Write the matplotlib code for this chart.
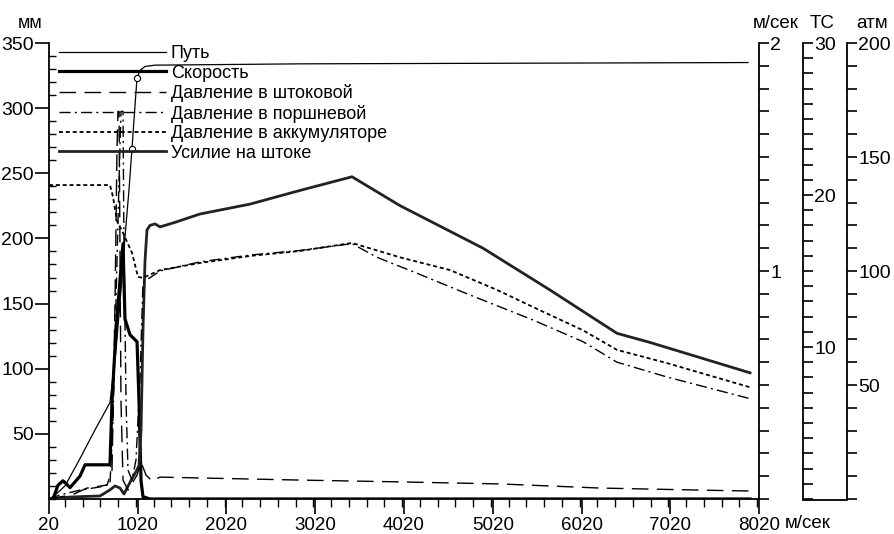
import matplotlib
matplotlib.use('Agg')
import matplotlib.pyplot as plt
from matplotlib.lines import Line2D
from matplotlib.ticker import MultipleLocator, FixedLocator

plt.rcParams['font.family'] = ['Liberation Sans', 'DejaVu Sans']

# time axis, ms
x_ticks = [20, 1020, 2020, 3020, 4020, 5020, 6020, 7020, 8020]

# Путь, мм
path_x = [20, 88, 200, 369, 538, 707, 775, 831, 876, 921, 955, 989, 1012, 1045, 1102, 1214, 2848, 7896]
path_y = [0, 3, 10, 31, 53, 74, 114, 160, 201, 237, 269, 302, 323, 329, 332, 333, 334, 335]
path_marks = [10, 12]

# Скорость, м/сек
speed_x = [20, 65, 121, 178, 257, 369, 426, 707, 730, 775, 820, 854, 876, 933, 1012, 1034, 1057, 1079, 1158, 7919]
speed_y = [0, 0, 0.06, 0.08, 0.05, 0.10, 0.15, 0.15, 0.43, 0.74, 0.96, 1.12, 0.79, 0.72, 0.69, 0.43, 0.08, 0.01, 0, 0]

# Давление в штоковой, атм
rod_x = [20, 144, 279, 448, 674, 730, 764, 786, 797, 809, 820, 831, 854, 910, 1012, 1057, 1113, 1181, 1271,
         2848, 3975, 5102, 6229, 7356, 7919]
rod_y = [0, 0.9, 1.8, 4.8, 6.1, 12.7, 87, 153, 170, 170, 109, 43, 8.3, 3.9, 10.5, 16.2, 10.5, 7.9, 9.6,
         8.3, 7.5, 6.6, 4.8, 3.9, 3.5]

# Давление в поршневой, атм
piston_x = [20, 144, 369, 595, 707, 741, 775, 809, 831, 854, 865, 888, 910, 955, 1000, 1045, 1079, 1271,
            1721, 2285, 2848, 3434, 3716, 4167, 4730, 5474, 6037, 6420, 6984, 7919]
piston_y = [0, 1.8, 3.9, 5.3, 6.6, 34.6, 87, 140, 170, 170, 109, 43, 12.7, 8.3, 17.1, 52, 95, 100,
            104, 107, 109, 112, 106, 99, 90, 78.5, 69, 60, 53.5, 44]

# Давление в аккумуляторе, атм
accum_x = [20, 707, 741, 786, 854, 955, 1023, 1079, 1271, 1721, 2285, 2848, 3434, 3975, 4539, 5068, 5474,
           6037, 6420, 6984, 7919]
accum_y = [137.7, 137.7, 132.5, 122, 116.7, 108, 97.4, 97, 100.4, 103.5, 106.6, 108.8, 112.3, 106, 100.4,
           91.7, 84.2, 74, 65.4, 59.6, 49]

# Усилие на штоке, ТС
force_x = [20, 257, 595, 707, 764, 820, 865, 933, 1000, 1034, 1057, 1079, 1102, 1124, 1158, 1214, 1271,
           1440, 1721, 2285, 2848, 3434, 3975, 4910, 5665, 6420, 6792, 7356, 7919]
force_y = [0, 0.13, 0.2, 0.6, 0.86, 0.72, 0.33, 1.1, 1.8, 2.2, 4.5, 11.1, 15.7, 17.7, 18.0, 18.1, 17.9,
           18.2, 18.75, 19.4, 20.3, 21.2, 19.3, 16.5, 13.75, 10.9, 10.3, 9.3, 8.3]

labels = ['Путь', 'Скорость', 'Давление в штоковой', 'Давление в поршневой',
          'Давление в аккумуляторе', 'Усилие на штоке']


def main():

    fig = plt.figure(figsize=(8.95, 5.34), dpi=100)
    ax = fig.add_axes([49 / 895, 35 / 534, 710 / 895, 456 / 534])
    ax_v = ax.twinx()
    ax_tc = ax.twinx()
    ax_atm = ax.twinx()
    ax_tc.spines['right'].set_position(('axes', 1.062))
    ax_atm.spines['right'].set_position(('axes', 1.124))

    ax.spines['top'].set_visible(False)
    ax.spines['right'].set_visible(False)
    for a in (ax_v, ax_tc, ax_atm):
        for s in ('top', 'left', 'bottom'):
            a.spines[s].set_visible(False)
        a.spines['right'].set_linewidth(1.3)
    ax.spines['left'].set_linewidth(1.3)
    ax.spines['bottom'].set_linewidth(1.3)

    #curves
    h_path, = ax.plot(path_x, path_y, color='black', lw=0.9)
    ax.plot([path_x[i] for i in path_marks], [path_y[i] for i in path_marks], 'o',
            ms=4.5, mfc='white', mec='black', mew=0.8)
    h_speed, = ax_v.plot(speed_x, speed_y, color='black', lw=2.3)
    h_rod, = ax_atm.plot(rod_x, rod_y, color='black', lw=1.0, dashes=(12, 6))
    h_piston, = ax_atm.plot(piston_x, piston_y, color='black', lw=1.0, dashes=(8, 3, 1.5, 3))
    h_accum, = ax_atm.plot(accum_x, accum_y, color='black', lw=1.3, dashes=(2.2, 1.6))
    h_force, = ax_tc.plot(force_x, force_y, color='#222222', lw=2.0)

    #scales
    ax.set_xlim(20, 8020)
    ax.set_ylim(0, 350)
    ax_v.set_ylim(0, 2)
    ax_tc.set_ylim(0, 30)
    ax_atm.set_ylim(0, 200)

    ax.xaxis.set_major_locator(FixedLocator(x_ticks))
    ax.set_xticklabels([str(t) for t in x_ticks])
    ax.xaxis.set_minor_locator(MultipleLocator(200))
    ax.yaxis.set_major_locator(FixedLocator([50, 100, 150, 200, 250, 300, 350]))
    ax.yaxis.set_minor_locator(MultipleLocator(10))
    ax.tick_params(axis='x', which='major', direction='out', length=11, width=1.2, labelsize=13.5, pad=2)
    ax.tick_params(axis='x', which='minor', direction='out', length=6, width=1.0)
    ax.tick_params(axis='y', which='major', direction='out', length=10, width=1.2, labelsize=14, pad=1)
    ax.tick_params(axis='y', which='minor', direction='in', length=5, width=1.0)

    ax_v.yaxis.set_major_locator(FixedLocator([1, 2]))
    ax_v.yaxis.set_minor_locator(MultipleLocator(0.1))
    ax_tc.yaxis.set_major_locator(FixedLocator([10, 20, 30]))
    ax_tc.yaxis.set_minor_locator(MultipleLocator(1))
    ax_atm.yaxis.set_major_locator(FixedLocator([50, 100, 150, 200]))
    ax_atm.yaxis.set_minor_locator(MultipleLocator(10))
    for a in (ax_v, ax_tc, ax_atm):
        a.tick_params(axis='y', which='both', direction='out', length=7, width=1.2, labelsize=14, pad=1)

    #unit labels
    fig.text(30 / 895, 1 - 23 / 534, 'мм', ha='center', va='center', fontsize=13)
    fig.text(776 / 895, 1 - 23 / 534, 'м/сек', ha='center', va='center', fontsize=13.5)
    fig.text(822 / 895, 1 - 23 / 534, 'ТС', ha='center', va='center', fontsize=13.5)
    fig.text(872 / 895, 1 - 23 / 534, 'атм', ha='center', va='center', fontsize=13.5)
    fig.text(785 / 895, 1 - 515 / 534, 'м/сек', ha='left', va='top', fontsize=13.5)
    fig.add_artist(Line2D([803 / 895, 847 / 895], [1 - 500 / 534, 1 - 500 / 534], color='black', lw=1.3))

    handles = [h_path, h_speed, h_rod, h_piston, h_accum, h_force]
    ax_atm.legend(handles, labels, loc='upper left', bbox_to_anchor=(10 / 710, 1.0 - 2 / 456),
                  frameon=False, fontsize=13, handlelength=5.9, handletextpad=0.3,
                  labelspacing=0.14, borderpad=0, borderaxespad=0)

    fig.savefig('out.png', dpi=100)

    return None


if __name__ == '__main__':
    main()
